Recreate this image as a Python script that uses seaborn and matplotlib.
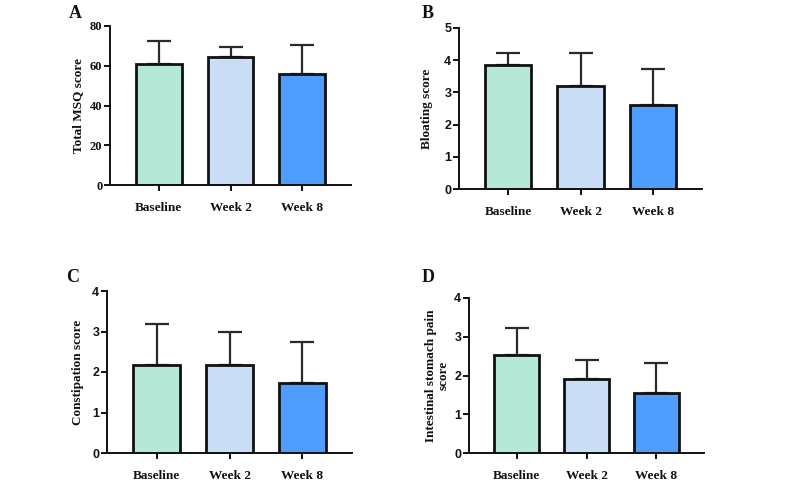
import matplotlib
matplotlib.use("Agg")
import matplotlib.pyplot as plt
import seaborn as sns
import pandas as pd
import numpy as np

categories = ["Baseline", "Week 2", "Week 8"]
colors = ["#b5e8d6", "#c9ddf6", "#4f9dff"]

msq_mean = [61.0, 64.2, 55.8]
msq_sd = [11.6, 5.2, 14.8]
bloat_mean = [3.84, 3.19, 2.61]
bloat_sd = [0.39, 1.02, 1.13]
const_mean = [2.18, 2.18, 1.74]
const_sd = [1.01, 0.82, 1.01]
pain_mean = [2.53, 1.91, 1.54]
pain_sd = [0.69, 0.49, 0.78]

panels = [
    ("A", "Total MSQ score", msq_mean, msq_sd, [0, 20, 40, 60, 80], "serif"),
    ("B", "Bloating score", bloat_mean, bloat_sd, [0, 1, 2, 3, 4, 5], "sans"),
    ("C", "Constipation score", const_mean, const_sd, [0, 1, 2, 3, 4], "sans"),
    ("D", "Intestinal stomach pain\nscore", pain_mean, pain_sd, [0, 1, 2, 3, 4], "sans"),
]

sns.set_theme(style="ticks")
plt.rcParams["font.family"] = ["Liberation Serif", "DejaVu Serif"]

fig = plt.figure(figsize=(8.0, 4.83), dpi=100)
W, H = 800, 483
# axes rectangles in pixels: left, right, top(y of top tick), bottom(y of 0)
rects = [
    (110, 351, 26, 185),
    (459, 702, 28, 189),
    (107, 352, 291, 453),
    (469, 704, 298, 453),
]
letter_pos = [(75, 13), (428, 13), (73, 278), (428, 277)]
ylabel_x = [78, 427, 78, 437]

for i, (letter, ylab, means, sds, ticks, tickfont) in enumerate(panels):
    l, r, t, b = rects[i]
    ax = fig.add_axes([l / W, 1 - b / H, (r - l) / W, (b - t) / H])
    df = pd.DataFrame({"time": categories, "score": means})
    sns.barplot(data=df, x="time", y="score", hue="time", palette=colors,
                errorbar=None, width=0.64, edgecolor="#111111", linewidth=2.0,
                ax=ax, legend=False, saturation=1)
    ax.errorbar(x=np.arange(len(categories)), y=means,
                yerr=[np.zeros(len(sds)), sds], fmt="none", ecolor="#2a2a2a",
                elinewidth=1.6, capsize=8.6, capthick=1.6, zorder=0.5)
    ax.set_xlim(-0.68, 2.68)
    ax.set_ylim(0, ticks[-1])
    ax.set_yticks(ticks)
    ax.set_xlabel("")
    ax.set_ylabel("")
    for s in ["top", "right"]:
        ax.spines[s].set_visible(False)
    for s in ["left", "bottom"]:
        ax.spines[s].set_linewidth(1.4)
        ax.spines[s].set_color("#111111")
    ax.tick_params(axis="both", direction="out", length=4, width=1.4, color="#111111")
    ax.tick_params(axis="x", pad=8)
    ax.tick_params(axis="y", pad=1.5)
    for lab in ax.get_xticklabels():
        lab.set_fontfamily(["Liberation Serif", "DejaVu Serif"])
        lab.set_fontweight("bold")
        lab.set_fontsize(9.5)
        lab.set_color("#111111")
    for lab in ax.get_yticklabels():
        if tickfont == "serif":
            lab.set_fontfamily(["Liberation Serif", "DejaVu Serif"])
        else:
            lab.set_fontfamily(["Liberation Sans", "DejaVu Sans"])
        lab.set_fontweight("bold")
        lab.set_fontsize(9)
        lab.set_color("#111111")
    cy = 1 - (t + b) / 2 / H
    fig.text(ylabel_x[i] / W, cy, ylab, rotation=90, ha="center", va="center",
             fontsize=9.5, fontweight="bold", color="#111111",
             family=["Liberation Serif", "DejaVu Serif"], linespacing=1.1)
    lx, ly = letter_pos[i]
    fig.text(lx / W, 1 - ly / H, letter, ha="center", va="center", fontsize=13,
             fontweight="bold", color="#111111",
             family=["Liberation Serif", "DejaVu Serif"])

fig.savefig("out.png", dpi=100)
